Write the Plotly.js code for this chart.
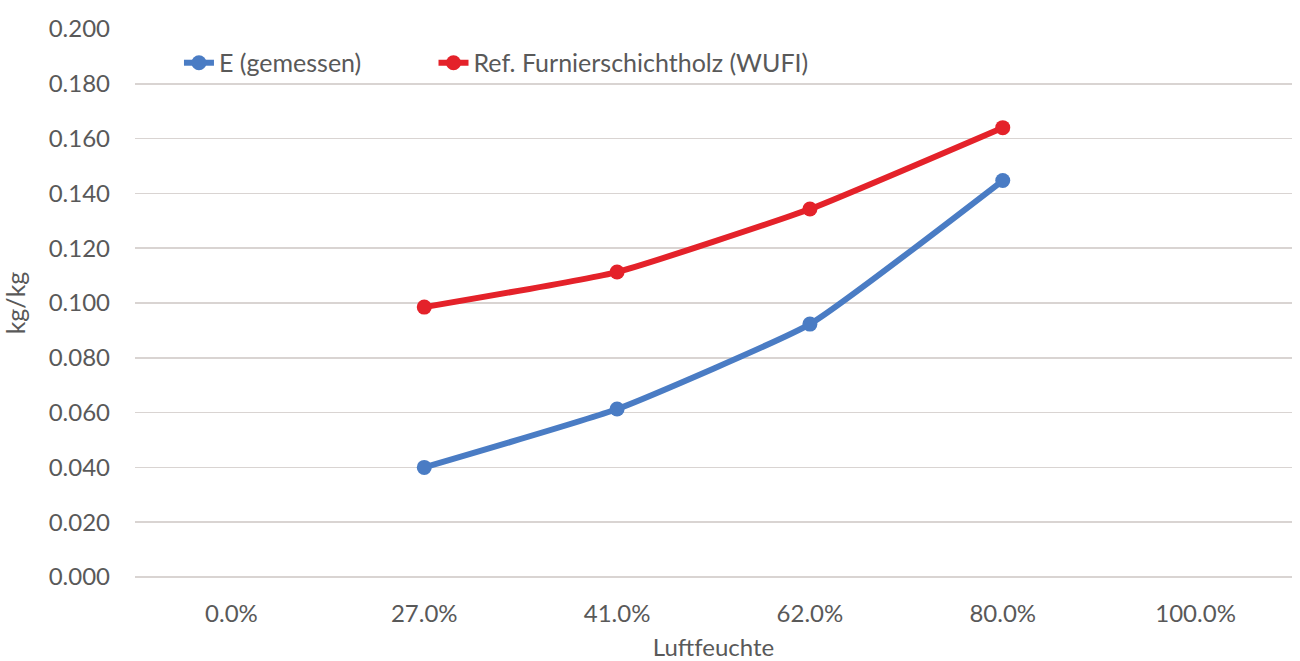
<!DOCTYPE html>
<html>
<head>
<meta charset="utf-8">
<script src="https://cdn.plot.ly/plotly-3.0.1.min.js"></script>
<style>html,body{margin:0;padding:0;background:#fff;}#chart{width:1300px;height:661px;}</style>
</head>
<body>
<div id="chart"></div>
<script>
const categories = ["0.0%", "27.0%", "41.0%", "62.0%", "80.0%", "100.0%"];
const measuredE = [null, 0.040, 0.0613, 0.0923, 0.1447, null];
const refLVL = [null, 0.0985, 0.1113, 0.1343, 0.1640, null];
const yTickVals = [0, 0.02, 0.04, 0.06, 0.08, 0.10, 0.12, 0.14, 0.16, 0.18, 0.20];
const yTickText = ["0.000","0.020","0.040","0.060","0.080","0.100","0.120","0.140","0.160","0.180","0.200"];

const font = "Lato, 'Open Sans', sans-serif";
const txt = "#595959";
const traces = [
  {x: categories, y: measuredE, name: "E (gemessen)", type: "scatter", mode: "lines+markers",
   line: {color: "#4A7CC4", width: 6, shape: "spline", smoothing: 0.4},
   marker: {color: "#4A7CC4", size: 15}, connectgaps: false, legend: "legend"},
  {x: categories, y: refLVL, name: "Ref. Furnierschichtholz (WUFI)", type: "scatter", mode: "lines+markers",
   line: {color: "#E4222A", width: 6, shape: "spline", smoothing: 0.4},
   marker: {color: "#E4222A", size: 15}, connectgaps: false, legend: "legend2"}
];
const legendBase = {orientation: "h", y: 0.938, xanchor: "left", yanchor: "middle",
           font: {family: font, size: 25, color: txt}, bgcolor: "rgba(0,0,0,0)"};
const layout = {
  width: 1300, height: 661,
  margin: {l: 135, r: 8, t: 29, b: 84},
  paper_bgcolor: "#fff", plot_bgcolor: "#fff",
  font: {family: font, size: 24, color: txt},
  showlegend: true,
  legend: Object.assign({}, legendBase, {x: 0.038}),
  legend2: Object.assign({}, legendBase, {x: 0.258}),
  xaxis: {type: "category", range: [-0.5, 5.5], showgrid: false, zeroline: false, showline: false,
          ticks: "", tickfont: {family: font, size: 24, color: txt}, ticklabelstandoff: 20,
          title: {text: "Luftfeuchte", font: {family: font, size: 24, color: txt}, standoff: 14}},
  yaxis: {range: [0, 0.2], tickvals: yTickVals, ticktext: yTickText, showgrid: true, gridcolor: "#D9D4D2", gridwidth: 1.5,
          zeroline: true, zerolinecolor: "#D9D4D2", zerolinewidth: 1.5, showline: false, ticks: "",
          tickfont: {family: font, size: 24, color: txt}, ticklabelstandoff: 24,
          title: {text: "kg/kg", font: {family: font, size: 25, color: txt}, standoff: 18}},
};
Plotly.newPlot("chart", traces, layout, {displayModeBar: false, staticPlot: true});
</script>
</body>
</html>
